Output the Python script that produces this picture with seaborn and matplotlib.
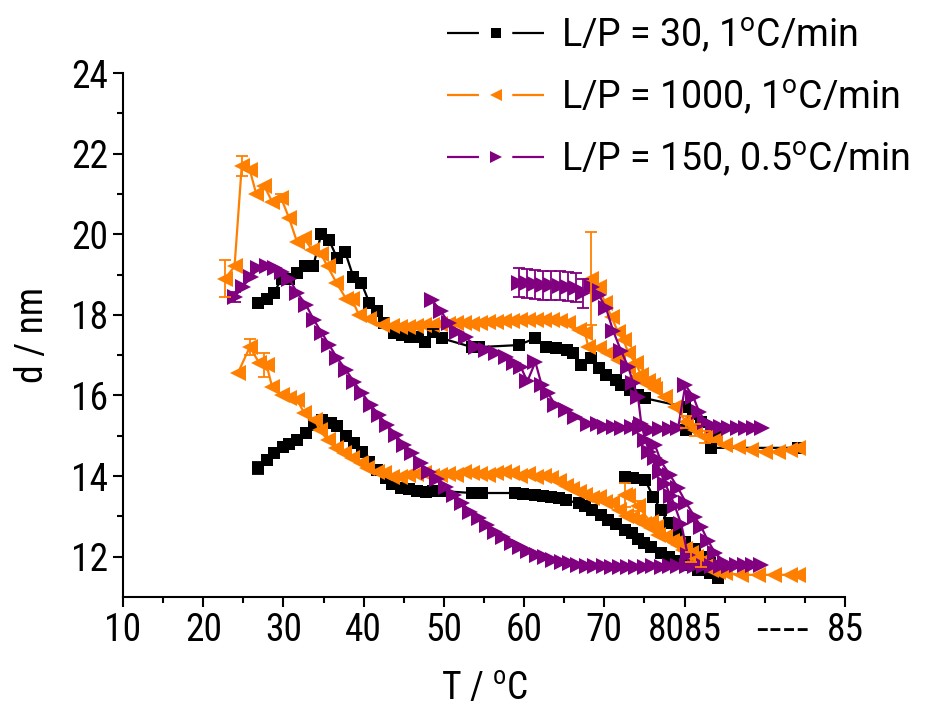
import matplotlib
matplotlib.use("Agg")
import matplotlib.pyplot as plt
from matplotlib.lines import Line2D
import seaborn as sns

# ---- data (T in displayed axis units, d in nm) ----
# L/P = 30, 1 C/min (black)
blk_up_T = [26.8, 27.9, 28.8, 29.8, 30.7, 31.7, 32.7, 33.7, 34.7, 35.7, 36.7, 37.7, 38.7, 39.7,
            40.7, 41.7, 42.5, 43.8, 44.8, 45.8, 46.8, 47.6, 48.6, 49.7, 53.5, 54.4, 59.3, 61.4,
            62.7, 64.0, 65.3, 66.1, 67.1, 68.3, 69.3, 70.2, 71.4, 72.1, 73.2, 74.2, 75.1, 80.1,
            81.1, 82.0, 80.2, 83.3, 84.0, 83.3, 94.1]
blk_up_d = [18.3, 18.4, 18.55, 18.9, 18.9, 19.05, 19.2, 19.2, 20.0, 19.85, 19.4, 19.55, 18.95, 18.8,
            18.3, 18.1, 17.8, 17.55, 17.5, 17.45, 17.45, 17.33, 17.57, 17.42, 17.2, 17.2, 17.25, 17.42,
            17.2, 17.18, 17.13, 17.05, 16.75, 16.93, 16.68, 16.5, 16.38, 16.26, 16.13, 16.0, 15.93, 15.71,
            15.55, 15.35, 15.14, 14.97, 14.97, 14.7, 14.7]
blk_lo_T = [26.8, 27.9, 28.8, 29.9, 30.7, 31.7, 32.8, 33.8, 34.8, 35.9, 36.7, 37.8, 38.8, 39.8,
            40.7, 41.7, 42.8, 43.5, 44.7, 45.7, 46.7, 47.8, 48.6, 49.6, 53.5, 54.7, 58.9, 59.8,
            61.4, 62.4, 63.4, 64.3, 65.2, 66.8, 67.6, 68.4, 69.6, 70.5, 71.4, 72.6, 73.4, 74.2,
            75.0, 75.8, 77.1, 78.0, 79.0, 80.2, 81.7, 83.2, 84.2]
blk_lo_d = [14.2, 14.4, 14.57, 14.72, 14.8, 14.9, 15.07, 15.27, 15.4, 15.32, 15.25, 15.0, 14.82, 14.6,
            14.35, 14.15, 13.95, 13.8, 13.7, 13.68, 13.63, 13.6, 13.62, 13.63, 13.58, 13.58, 13.58, 13.56,
            13.53, 13.5, 13.48, 13.45, 13.4, 13.33, 13.25, 13.15, 13.03, 12.9, 12.8, 12.66, 12.58, 12.45,
            12.35, 12.24, 12.1, 12.0, 11.9, 11.8, 11.67, 11.6, 11.47]
blk_br_T = [72.6, 73.6, 75.1, 76.1, 77.1, 78.0, 79.0, 80.0, 81.3, 82.0, 83.2, 84.2]
blk_br_d = [13.98, 13.95, 13.9, 13.48, 13.15, 12.83, 12.6, 12.37, 12.2, 12.0, 11.85, 11.6]
blk_err_T = [26.8, 26.8, 34.7, 37.7, 48.6, 83.3, 72.6]
blk_err_d = [18.3, 14.2, 20.0, 19.55, 17.57, 14.7, 13.98]
blk_err = [0.12, 0.15, 0.1, 0.1, 0.08, 0.1, 0.1]

# L/P = 1000, 1 C/min (orange)
org_up_T = [22.7, 23.9, 24.8, 25.8, 26.6, 27.6, 28.6, 29.7, 30.7, 31.7, 32.6, 33.6, 34.7, 35.5,
            36.6, 37.8, 38.5, 39.4, 40.7, 42.3, 43.5, 44.5, 45.5, 46.5, 47.5, 48.5, 49.5, 50.5,
            51.5, 52.5, 53.5, 54.5, 55.5, 56.5, 57.5, 58.5, 59.5, 60.5, 61.5, 62.5, 63.5, 64.5,
            65.5, 66.8, 67.6, 68.0, 69.3, 70.5, 71.7, 73.0, 74.0, 75.1, 76.3, 77.6, 78.8, 80.2,
            81.3, 82.5, 83.8, 85.0, 86.6, 88.3, 90.0, 91.6, 93.2, 94.1]
org_up_d = [18.9, 19.2, 21.7, 21.6, 21.0, 21.2, 20.8, 20.9, 20.4, 19.8, 19.9, 19.6, 19.5, 19.2,
            18.8, 18.4, 18.4, 18.0, 17.9, 17.75, 17.72, 17.7, 17.7, 17.72, 17.75, 17.75, 17.78, 17.78,
            17.8, 17.8, 17.78, 17.8, 17.82, 17.82, 17.85, 17.85, 17.87, 17.87, 17.87, 17.88, 17.87, 17.85,
            17.8, 17.62, 17.55, 17.2, 17.18, 17.05, 16.88, 16.7, 16.45, 16.3, 16.15, 15.95, 15.71, 15.35,
            15.14, 14.97, 14.9, 14.77, 14.72, 14.65, 14.6, 14.6, 14.65, 14.7]
org_hi_T = [68.3, 69.3, 70.1, 70.9, 71.7, 72.4, 73.0, 73.9, 74.6, 75.5, 76.1, 77.6]
org_hi_d = [18.9, 18.7, 18.3, 17.95, 17.57, 17.37, 17.05, 16.8, 16.5, 16.35, 16.26, 15.96]
org_lo_T = [24.3, 25.8, 27.0, 27.9, 28.6, 29.8, 30.7, 31.7, 32.6, 33.9, 34.5, 35.5, 36.6, 37.6,
            38.6, 39.7, 40.4, 41.6, 42.5, 43.5, 44.5, 45.5, 46.5, 47.5, 48.5, 49.5, 50.5, 51.5,
            52.5, 53.5, 54.5, 55.5, 56.5, 57.5, 58.5, 59.5, 60.5, 61.5, 62.5, 63.4, 64.3, 65.2,
            66.0, 66.8, 67.6, 68.4, 69.3, 70.1, 71.0, 71.8, 72.7, 73.5, 74.2, 75.0, 75.8, 76.7,
            77.6, 78.4, 79.2, 80.0, 80.8, 81.4, 82.0, 82.7, 83.3, 84.2, 85.0, 87.0, 89.1, 91.2,
            93.2, 94.1]
org_lo_d = [16.55, 17.2, 16.8, 16.75, 16.2, 16.0, 15.93, 15.89, 15.56, 15.4, 15.14, 14.9, 14.7, 14.57,
            14.45, 14.32, 14.2, 14.1, 14.07, 13.97, 13.98, 14.02, 14.05, 14.07, 14.0, 14.02, 14.05, 14.02,
            14.1, 14.07, 14.05, 14.02, 14.07, 14.1, 14.07, 14.0, 14.05, 13.97, 14.0, 13.95, 13.88, 13.75,
            13.67, 13.6, 13.52, 13.45, 13.48, 13.35, 13.33, 13.15, 13.0, 12.95, 12.9, 12.8, 12.7, 12.55,
            12.49, 12.38, 12.29, 12.18, 12.09, 12.0, 11.87, 11.78, 11.67, 11.63, 11.6, 11.55, 11.55, 11.55,
            11.55, 11.55]
org_br_T = [72.6, 73.0, 74.2, 75.8, 76.5, 77.6, 78.8, 79.8, 80.8]
org_br_d = [13.53, 13.5, 13.25, 12.85, 12.73, 12.5, 12.34, 12.16, 12.0]
org_err_T = [22.7, 24.8, 68.3, 25.8, 27.6, 29.7, 80.2, 81.3, 82.5, 72.6, 74.2, 80.8, 82.0]
org_err_d = [18.9, 21.7, 18.9, 17.2, 16.75, 20.9, 15.35, 15.14, 14.97, 13.53, 13.25, 12.0, 11.87]
org_err = [0.45, 0.25, 1.15, 0.2, 0.3, 0.1, 0.15, 0.15, 0.15, 0.3, 0.12, 0.12, 0.12]

# L/P = 150, 0.5 C/min (purple)
pur_a_T = [23.9, 24.9, 26.0, 26.8, 27.9, 28.9, 29.8, 30.7, 31.7, 32.8, 33.8, 34.8, 35.7, 36.7,
           37.8, 38.8, 39.8, 40.9, 41.9, 42.9, 44.0, 45.0, 46.0, 47.1, 48.1, 49.1, 50.2, 51.2,
           52.3, 53.3, 54.4, 55.4, 56.4, 57.4, 58.5, 59.5, 60.5, 61.6, 62.6, 63.6, 64.7, 65.7,
           66.7, 67.8, 68.8, 69.9, 70.9, 72.0, 73.0, 74.0, 75.1, 76.1, 77.2, 78.2, 79.2, 80.3,
           81.3, 82.4, 83.4, 84.5, 85.5, 86.5, 87.5, 88.5, 89.5]
pur_a_d = [18.44, 18.7, 18.95, 19.15, 19.2, 19.15, 19.07, 18.9, 18.55, 18.25, 17.87, 17.55, 17.25, 16.93,
           16.63, 16.33, 16.06, 15.76, 15.51, 15.27, 15.02, 14.77, 14.57, 14.32, 14.1, 13.92, 13.72, 13.52,
           13.32, 13.12, 12.95, 12.78, 12.62, 12.48, 12.35, 12.24, 12.14, 12.05, 11.98, 11.92, 11.88, 11.84,
           11.8, 11.78, 11.77, 11.76, 11.75, 11.75, 11.75, 11.74, 11.75, 11.76, 11.75, 11.76, 11.77, 11.77,
           11.77, 11.78, 11.78, 11.78, 11.78, 11.79, 11.8, 11.8, 11.8]
pur_b_T = [48.5, 49.6, 50.6, 51.6, 52.7, 54.0, 55.2, 56.5, 57.7, 58.7, 59.6, 60.4, 61.4, 62.2,
           63.0, 63.9, 65.2, 66.4, 68.0, 69.2, 70.1, 71.2, 72.2, 73.4, 74.4, 75.8, 77.0, 78.2,
           79.2, 80.1, 81.1, 81.8, 82.6, 83.6, 84.6, 85.6, 86.6, 87.6, 88.6, 89.7]
pur_b_d = [18.37, 18.1, 17.8, 17.57, 17.45, 17.2, 17.13, 17.05, 16.95, 16.8, 16.7, 16.35, 16.83, 16.25,
           16.05, 15.76, 15.64, 15.46, 15.3, 15.28, 15.22, 15.22, 15.2, 15.22, 15.2, 15.15, 15.17, 15.18,
           15.2, 16.26, 15.96, 15.6, 15.35, 15.25, 15.22, 15.2, 15.2, 15.2, 15.2, 15.2]
pur_c_T = [59.3, 60.3, 61.4, 62.4, 63.4, 64.5, 65.5, 66.5, 67.4, 68.4, 69.3, 70.2, 71.1, 72.1,
           73.0, 73.6, 74.2, 74.6, 75.1, 75.6, 76.3, 77.0, 77.6, 78.3, 78.8, 79.6, 80.4]
pur_c_d = [18.8, 18.78, 18.76, 18.74, 18.73, 18.72, 18.7, 18.67, 18.54, 18.7, 18.5, 18.17, 17.6, 17.1,
           16.7, 16.3, 15.96, 15.3, 14.9, 14.6, 14.45, 14.1, 13.8, 13.5, 13.25, 12.8, 12.04]
pur_d_T = [76.3, 77.1, 78.2, 79.2, 80.2, 81.3, 82.1, 82.9, 83.8, 85.0]
pur_d_d = [14.77, 14.35, 14.02, 13.7, 13.33, 12.98, 12.73, 12.4, 12.1, 11.85]
pur_err_T = [23.9, 59.3, 60.3, 61.4, 62.4, 63.4, 64.5, 65.5, 66.5, 67.4]
pur_err_d = [18.44, 18.8, 18.78, 18.76, 18.74, 18.73, 18.72, 18.7, 18.67, 18.54]
pur_err = [0.12, 0.36, 0.36, 0.36, 0.36, 0.36, 0.36, 0.36, 0.36, 0.36]

x_major = [10, 20, 30, 40, 50, 60, 70, 80, 100]
x_major_labels = ["10", "20", "30", "40", "50", "60", "70", "8085", "85"]
x_minor = [15, 25, 35, 45, 55, 65, 75, 85, 90, 95]
y_major = [12, 14, 16, 18, 20, 22, 24]
y_minor = [13, 15, 17, 19, 21, 23]

legend_labels = ["L/P = 30, 1$^\\mathregular{o}$C/min",
                 "L/P = 1000, 1$^\\mathregular{o}$C/min",
                 "L/P = 150, 0.5$^\\mathregular{o}$C/min"]

BLACK, ORANGE, PURPLE = "#000000", "#FF7F00", "#800080"

sns.set_style("ticks")
plt.rcParams["font.family"] = ["Roboto Condensed", "Roboto", "DejaVu Sans"]
plt.rcParams["mathtext.default"] = "regular"
plt.rcParams["lines.scale_dashes"] = False
for key in ["text.color", "axes.labelcolor", "xtick.color", "ytick.color", "axes.edgecolor"]:
    plt.rcParams[key] = "black"

fig = plt.figure(figsize=(9.3, 7.13), dpi=100)
ax = fig.add_axes([0.1323, 0.1627, 0.7763, 0.7349])


def draw(T, d, color, marker, ms):
    sns.lineplot(x=T, y=d, ax=ax, color=color, marker=marker, markersize=ms,
                 markeredgewidth=0, linewidth=1.6, sort=False, estimator=None,
                 legend=False)


def bars(T, d, e, color):
    ax.errorbar(T, d, yerr=e, fmt="none", ecolor=color, elinewidth=1.3,
                capsize=4.5, capthick=1.3, zorder=3)


for T, d in [(blk_up_T, blk_up_d), (blk_lo_T, blk_lo_d), (blk_br_T, blk_br_d)]:
    draw(T, d, BLACK, "s", 9)
bars(blk_err_T, blk_err_d, blk_err, BLACK)

for T, d in [(org_up_T, org_up_d), (org_hi_T, org_hi_d), (org_lo_T, org_lo_d), (org_br_T, org_br_d)]:
    draw(T, d, ORANGE, "<", 11)
bars(org_err_T, org_err_d, org_err, ORANGE)

for T, d in [(pur_a_T, pur_a_d), (pur_b_T, pur_b_d), (pur_c_T, pur_c_d), (pur_d_T, pur_d_d)]:
    draw(T, d, PURPLE, ">", 11)
bars(pur_err_T, pur_err_d, pur_err, PURPLE)

ax.set_xlim(10, 100)
ax.set_ylim(11, 24)
ax.set_xticks(x_major)
ax.set_xticklabels(x_major_labels)
ax.set_xticks(x_minor, minor=True)
ax.set_yticks(y_major)
ax.set_yticks(y_minor, minor=True)
ax.tick_params(which="major", direction="out", length=7, width=1.5, labelsize=27, pad=4)
ax.tick_params(which="minor", direction="out", length=4, width=1.5)
sns.despine(ax=ax)
for s in ["left", "bottom"]:
    ax.spines[s].set_linewidth(1.5)

ax.annotate("----", xy=(92.2, 0), xycoords=("data", "axes fraction"),
            xytext=(0, -11), textcoords="offset points", ha="center", va="top",
            fontsize=27, family="DejaVu Sans")

ax.set_xlabel("T / $^\\mathregular{o}$C", fontsize=27, labelpad=16)
ax.set_ylabel("d / nm", fontsize=27, labelpad=14)

handles = [Line2D([0], [0], color=c, marker=m, markersize=ms, markeredgewidth=0,
                  linewidth=1.6, linestyle=(0, (23, 24)))
           for c, m, ms in [(BLACK, "s", 7), (ORANGE, "<", 9), (PURPLE, ">", 9)]]
fig.legend(handles, legend_labels, loc="upper right", bbox_to_anchor=(1.015, 1.026),
           frameon=False, handlelength=2.6, handletextpad=0.45, labelspacing=0.62,
           prop={"family": ["Roboto", "DejaVu Sans"], "size": 27})

fig.savefig("out.png", dpi=100)
